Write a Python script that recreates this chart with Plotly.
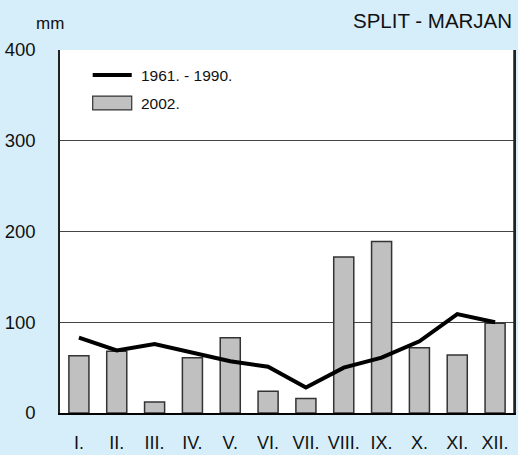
import plotly.graph_objects as go

months = ["I.", "II.", "III.", "IV.", "V.", "VI.", "VII.", "VIII.", "IX.", "X.", "XI.", "XII."]
rain_2002 = [63, 68, 12, 61, 83, 24, 16, 172, 189, 72, 64, 99]
rain_1961_1990 = [83, 69, 76, 66, 57, 51, 28, 50, 61, 79, 109, 100]
y_ticks = [0, 100, 200, 300, 400]

FONT = "Liberation Sans, Arial, sans-serif"

fig = go.Figure()
fig.add_trace(go.Bar(
    x=months, y=rain_2002, name="2002.", width=0.53,
    marker=dict(color="#c0c0c0", line=dict(color="#333", width=1.5))))
fig.add_trace(go.Scatter(
    x=months, y=rain_1961_1990, mode="lines", name="1961. - 1990.",
    line=dict(color="black", width=4)))

fig.update_layout(
    width=518, height=455,
    margin=dict(l=60, r=4, t=50, b=42, pad=0),
    paper_bgcolor="#d6eef9", plot_bgcolor="white",
    font=dict(family=FONT, size=18, color="#111"),
    showlegend=False,
    xaxis=dict(showline=True, linecolor="black", linewidth=2, mirror=False,
               ticks="", ticklabelstandoff=12, tickfont=dict(size=18),
               showgrid=False, range=[-0.5, 11.5], automargin=False),
    yaxis=dict(range=[0, 400], tickvals=y_ticks, showgrid=True,
               gridcolor="#444", gridwidth=1, showline=True, linecolor="#222",
               linewidth=1.5, mirror=True, ticks="", ticklabelstandoff=19,
               zeroline=False, tickfont=dict(size=18.5), automargin=False),
    annotations=[
        dict(text="mm", xref="paper", yref="paper", x=-0.021, y=(413 - 23) / 363,
             xanchor="center", yanchor="middle", showarrow=False, font=dict(size=17)),
        dict(text="SPLIT - MARJAN", xref="paper", yref="paper", x=1.0, y=(413 - 21) / 363,
             xanchor="right", yanchor="middle", showarrow=False, font=dict(size=20.5)),
        dict(text="1961. - 1990.", xref="paper", yref="paper", x=0.174, y=0.931,
             xanchor="left", yanchor="middle", showarrow=False, font=dict(size=15.5)),
        dict(text="2002.", xref="paper", yref="paper", x=0.174, y=0.852,
             xanchor="left", yanchor="middle", showarrow=False, font=dict(size=15.5)),
    ],
)
# right border of plot area
fig.add_shape(type="line", xref="paper", yref="paper", x0=1, x1=1, y0=0, y1=1,
              line=dict(color="#222", width=1.5))
# manual legend keys
fig.add_shape(type="line", xref="paper", yref="paper", x0=0.072, x1=0.158,
              y0=0.931, y1=0.931, line=dict(color="black", width=4))
fig.add_shape(type="rect", xref="paper", yref="paper", x0=0.072, x1=0.158,
              y0=0.835, y1=0.873, fillcolor="#c0c0c0", line=dict(color="#333", width=1.2))

fig.write_html("out.html", config={"displayModeBar": False},
               post_script="document.body.style.margin='0';document.body.style.overflow='hidden';")
